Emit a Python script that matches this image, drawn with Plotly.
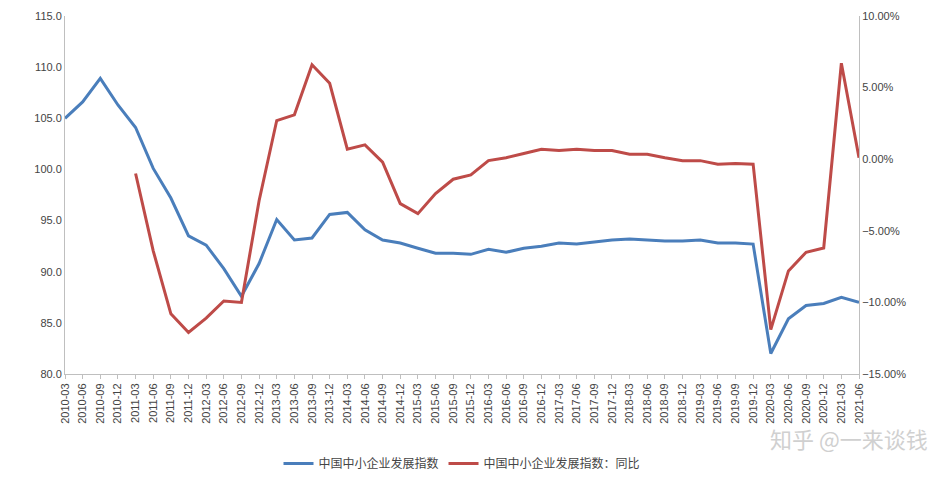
import plotly.graph_objects as go

quarters = [f"{y}-{m}" for y in range(2010, 2022) for m in ["03", "06", "09", "12"]][:46]
index_vals = [105.0, 106.6, 108.9, 106.3, 104.1, 100.1, 97.2, 93.5, 92.6, 90.3, 87.6, 90.8,
              95.1, 93.1, 93.3, 95.6, 95.8, 94.1, 93.1, 92.8, 92.3, 91.8, 91.8, 91.7,
              92.2, 91.9, 92.3, 92.5, 92.8, 92.7, 92.9, 93.1, 93.2, 93.1, 93.0, 93.0,
              93.1, 92.8, 92.8, 92.7, 82.0, 85.4, 86.7, 86.9, 87.5, 87.0]
yoy_pct = [None, None, None, None,
           -1.0, -6.4, -10.8, -12.1, -11.1, -9.9, -10.0, -2.9, 2.7, 3.1, 6.6, 5.3,
           0.7, 1.0, -0.2, -3.1, -3.8, -2.4, -1.4, -1.1, -0.1, 0.1, 0.4, 0.7,
           0.6, 0.7, 0.6, 0.6, 0.35, 0.35, 0.1, -0.1, -0.1, -0.35, -0.3, -0.35,
           -11.9, -7.8, -6.5, -6.2, 6.7, 0.1]
yoy = [None if v is None else v / 100 for v in yoy_pct]

fig = go.Figure()
fig.add_trace(go.Scatter(x=quarters, y=index_vals, mode="lines", name="中国中小企业发展指数",
                         line=dict(color="#4a7ebb", width=3)))
fig.add_trace(go.Scatter(x=quarters, y=yoy, mode="lines", name="中国中小企业发展指数：同比",
                         line=dict(color="#be4b48", width=3), yaxis="y2"))

axfont = dict(family="Liberation Sans, DejaVu Sans", size=11, color="#444")
fig.update_layout(
    width=945, height=479, paper_bgcolor="white", plot_bgcolor="white",
    margin=dict(l=57, r=94, t=8, b=113, autoexpand=False),
    font=dict(family="Noto Sans CJK SC", size=11, color="#444"),
    xaxis=dict(type="category", tickangle=-90, tickfont=axfont, showgrid=False, automargin=False,
               showline=True, linecolor="#bfbfbf", ticks="outside", tickcolor="#bfbfbf", ticklen=4),
    yaxis=dict(range=[80, 115], dtick=5, tickformat=".1f", tickfont=axfont, showgrid=False,
               automargin=False, showline=True, linecolor="#bfbfbf", zeroline=False),
    yaxis2=dict(range=[-0.15, 0.10], dtick=0.05, tickformat=".2%", tickfont=axfont, overlaying="y",
                automargin=False, side="right", showgrid=False, showline=True, linecolor="#bfbfbf",
                zeroline=False),
    legend=dict(orientation="h", x=0.5, xanchor="center", y=-0.25, yanchor="middle",
                font=dict(size=12, color="#444")),
    annotations=[dict(text="知乎 @一来谈钱", xref="paper", yref="paper", x=1.09, y=-0.18,
                      xanchor="right", yanchor="middle", showarrow=False,
                      font=dict(size=22, color="#d0d0d0", family="Noto Sans CJK SC"))],
)
fig.write_html("out.html")
